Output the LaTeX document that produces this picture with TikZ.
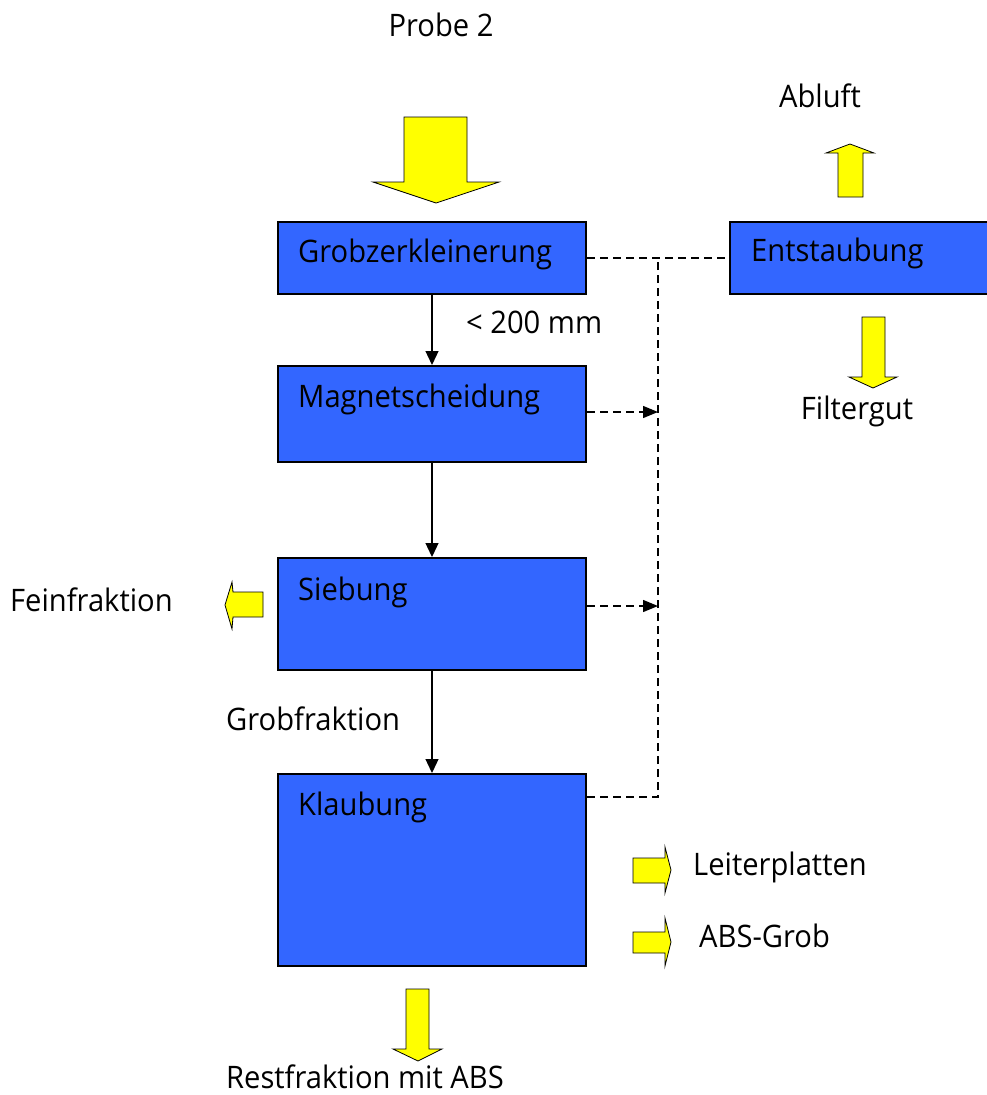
\documentclass[tikz,border=0pt]{standalone}
\usepackage{fontspec}
\setmainfont{Open Sans}
\usetikzlibrary{arrows.meta}
\definecolor{boxblue}{HTML}{3366FF}
\definecolor{padyellow}{HTML}{FFFF00}
\tikzset{
  procbox/.style={draw=black, line width=2pt, fill=boxblue, anchor=north west, inner sep=0pt},
  txt/.style={inner sep=0pt, xscale=0.94, text depth=0pt, font=\fontsize{31}{36}\selectfont},
  flow/.style={line width=1.3pt, -{Triangle[length=14pt,width=13pt]}},
  dust/.style={line width=1.3pt, dash pattern=on 8pt off 5pt},
  fat/.style={draw=black, line width=0.8pt, fill=padyellow, line join=miter},
}
\begin{document}
\begin{tikzpicture}[x=1pt,y=-1pt]
\useasboundingbox (0,0) rectangle (986,1095);

\node[procbox, minimum width=308pt, minimum height=72pt] (grob) at (277,221) {};
\node[procbox, minimum width=308pt, minimum height=96pt] (magnet) at (277,365) {};
\node[procbox, minimum width=308pt, minimum height=112pt] (sieb) at (277,557) {};
\node[procbox, minimum width=308pt, minimum height=192pt] (klaub) at (277,773) {};
\node[procbox, minimum width=300pt, minimum height=72pt] (entstaub) at (729,221) {};

\node[txt, anchor=base west] (grobtxt) at (298,262) {Grobzerkleinerung};
\node[txt, anchor=base west] (magnettxt) at (298,407) {Magnetscheidung};
\node[txt, anchor=base west] (siebtxt) at (298,600) {Siebung};
\node[txt, anchor=base west] (klaubtxt) at (298,815) {Klaubung};
\node[txt, anchor=base west] (entstaubtxt) at (751,261) {Entstaubung};

\draw[flow] (grob.south) -- (magnet.north);
\draw[flow] (magnet.south) -- (sieb.north);
\draw[flow] (sieb.south) -- (klaub.north);
\node[txt, anchor=base west] (size) at (466,333) {< 200 mm};
\node[txt, anchor=base west] (grobfr) at (226,730) {Grobfraktion};

\coordinate (bus) at (658,257);
\draw[dust] (grob.east) -- (entstaub.west);
\draw[dust] ([yshift=-24pt]klaub.north east) -| (bus);
\draw[dust, -{Triangle[length=15pt,width=12pt]}] ([yshift=2pt]magnet.east) -- ([yshift=2pt]magnet.east -| bus);
\draw[dust, -{Triangle[length=15pt,width=12pt]}] ([yshift=8pt]sieb.east) -- ([yshift=8pt]sieb.east -| bus);

\filldraw[fat] (404,117) -- (467,117) -- (467,182) -- (499,182) -- (436,203) -- (373,182) -- (404,182) -- cycle;
\node[txt, anchor=base] (probe) at (441,36) {Probe 2};

\filldraw[fat] (838,197) -- (838,153) -- (826,153) -- (850,144) -- (874,153) -- (863,153) -- (863,197) -- cycle;
\node[txt, anchor=base] (abluft) at (820,107) {Abluft};

\filldraw[fat] (862,317) -- (885,317) -- (885,377) -- (897,377) -- (873,388) -- (849,377) -- (862,377) -- cycle;
\node[txt, anchor=base] (filter) at (857,419) {Filtergut};

\filldraw[fat] (263,592) -- (233,592) -- (232,582) -- (225,605) -- (232,629) -- (233,617) -- (263,617) -- cycle;
\node[txt, anchor=base west] (fein) at (10,611) {Feinfraktion};

\filldraw[fat] (633,858) -- (665,858) -- (665,847) -- (671,870) -- (665,893) -- (665,883) -- (633,883) -- cycle;
\node[txt, anchor=base west] (leiter) at (693,875) {Leiterplatten};

\filldraw[fat] (633,932) -- (665,932) -- (665,918) -- (671,942) -- (665,966) -- (665,953) -- (633,953) -- cycle;
\node[txt, anchor=base west] (absgrob) at (699,947) {ABS-Grob};

\filldraw[fat] (406,989) -- (429,989) -- (429,1049) -- (442,1049) -- (418,1061) -- (393,1049) -- (406,1049) -- cycle;
\node[txt, anchor=base west] (rest) at (226,1088) {Restfraktion mit ABS};
\end{tikzpicture}
\end{document}
